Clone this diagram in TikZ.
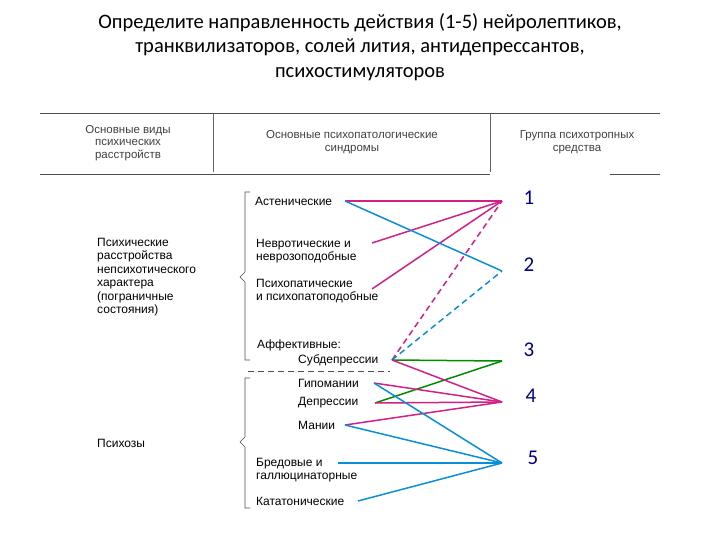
\documentclass[tikz,border=0pt]{standalone}
\usepackage{fontspec}
\setmainfont{Carlito}
\newfontfamily\arialf{Liberation Sans}
\begin{document}
\begin{tikzpicture}[x=1pt,y=-1pt,
 lab/.style={font=\arialf\fontsize{12}{13.5}\selectfont,anchor=west,align=left,inner sep=0},
 hdr/.style={font=\arialf\fontsize{11.5}{12.5}\selectfont,align=center,text=black!75,inner sep=0},
 num/.style={font=\fontsize{21}{22}\selectfont,text=blue!55!black,inner sep=0},
 mg/.style={draw=magenta!85!black,line width=1.5pt},
 cy/.style={draw=cyan!75!blue,line width=1.5pt},
 gr/.style={draw=green!55!black,line width=1.5pt},
 dsh/.style={dash pattern=on 6pt off 4pt},
 br/.style={draw=black!70,line width=0.6pt}]
\useasboundingbox (0,0) rectangle (720,540);
\node[font=\fontsize{20.5}{24.5}\selectfont,align=center] (t) at (360,47) {Определите направленность действия (1-5) нейролептиков,\\транквилизаторов, солей лития, антидепрессантов,\\психостимуляторов};
% header table
\draw[black!70,line width=0.8pt] (40,113) -- (660,113);
\draw[black!70,line width=0.8pt] (40,174) -- (490,174);
\draw[black!70,line width=0.8pt] (610,174) -- (660,174);
\draw[black!60,line width=0.6pt] (213,113) -- (213,172);
\draw[black!60,line width=0.6pt] (490,113) -- (490,172);
\node[hdr] (h1) at (128,143) {Основные виды\\психических\\расстройств};
\node[hdr] (h2) at (352,142) {Основные психопатологические\\синдромы};
\node[hdr] (h3) at (577,142) {Группа психотропных\\средства};
% left labels
\node[lab] (g1) at (97,277) {Психические\\расстройства\\непсихотического\\характера\\(пограничные\\ состояния)};
\node[lab] (g2) at (97,443) {Психозы};
% braces
\draw[br] (250,192) -- (245,192) -- (245,272) -- (240,277) -- (245,282) -- (245,360) -- (250,360);
\draw[br] (250,378) -- (245,378) -- (245,437) -- (240,442) -- (245,447) -- (245,508) -- (250,508);
\draw[black!70,dsh,line width=0.8pt] (248,371) -- (390,371);
% syndromes
\node[lab] (a) at (255,201) {Астенические};
\node[lab] (n) at (256,251) {Невротические и\\неврозоподобные};
\node[lab] (p) at (256,291) {Психопатические\\и психопатоподобные};
\node[lab] (af) at (257,345) {Аффективные:};
\node[lab] (s) at (298,360) {Субдепрессии};
\node[lab] (gm) at (298,383) {Гипомании};
\node[lab] (d) at (298,403) {Депрессии};
\node[lab] (m) at (298,425) {Мании};
\node[lab] (b) at (256,470) {Бредовые и\\галлюцинаторные};
\node[lab] (k) at (256,501) {Кататонические};
% end points
\coordinate (a0) at (345,201); \coordinate (n0) at (372,243); \coordinate (p0) at (372,289);
\coordinate (s0) at (392,360); \coordinate (gm0) at (374,383); \coordinate (d0) at (375,403);
\coordinate (m0) at (345,425); \coordinate (b0) at (338,463); \coordinate (k0) at (358,501);
\coordinate (P1) at (502,201); \coordinate (P2) at (502,271); \coordinate (P3) at (502,361);
\coordinate (P4) at (502,402); \coordinate (P5) at (502,463);
\node[num] (n1) at (529,198) {1};
\node[num] (n2) at (529,265) {2};
\node[num] (n3) at (529,350) {3};
\node[num] (n4) at (531,396) {4};
\node[num] (n5) at (533,458) {5};
% connectors
\draw[mg] (a0) -- (P1); \draw[mg] (n0) -- (P1); \draw[mg] (p0) -- (P1);
\draw[mg,dsh] (s0) -- (P1);
\draw[cy] (a0) -- (P2); \draw[cy,dsh] (s0) -- (P2);
\draw[gr] (s0) -- (P3); \draw[gr] (d0) -- (P3);
\draw[mg] (s0) -- (P4); \draw[mg] (gm0) -- (P4); \draw[mg] (d0) -- (P4); \draw[mg] (m0) -- (P4);
\draw[cy] (gm0) -- (P5); \draw[cy] (m0) -- (P5); \draw[cy] (b0) -- (P5); \draw[cy] (k0) -- (P5);
\end{tikzpicture}
\end{document}
